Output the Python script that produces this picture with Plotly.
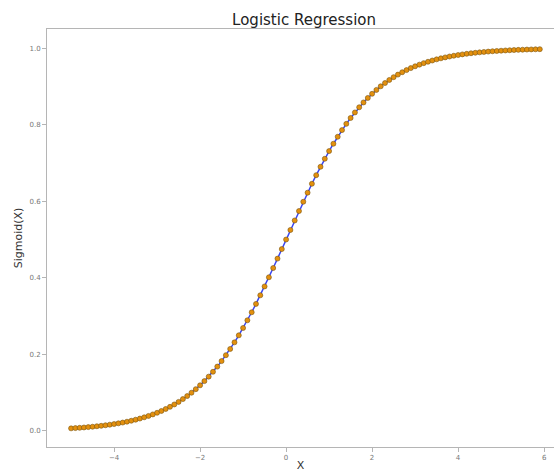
import plotly.graph_objects as go

x_vals = [-5.0, -4.9, -4.8, -4.7, -4.6, -4.5, -4.4, -4.3, -4.2, -4.1,
          -4.0, -3.9, -3.8, -3.7, -3.6, -3.5, -3.4, -3.3, -3.2, -3.1,
          -3.0, -2.9, -2.8, -2.7, -2.6, -2.5, -2.4, -2.3, -2.2, -2.1,
          -2.0, -1.9, -1.8, -1.7, -1.6, -1.5, -1.4, -1.3, -1.2, -1.1,
          -1.0, -0.9, -0.8, -0.7, -0.6, -0.5, -0.4, -0.3, -0.2, -0.1,
          0.0, 0.1, 0.2, 0.3, 0.4, 0.5, 0.6, 0.7, 0.8, 0.9,
          1.0, 1.1, 1.2, 1.3, 1.4, 1.5, 1.6, 1.7, 1.8, 1.9,
          2.0, 2.1, 2.2, 2.3, 2.4, 2.5, 2.6, 2.7, 2.8, 2.9,
          3.0, 3.1, 3.2, 3.3, 3.4, 3.5, 3.6, 3.7, 3.8, 3.9,
          4.0, 4.1, 4.2, 4.3, 4.4, 4.5, 4.6, 4.7, 4.8, 4.9,
          5.0, 5.1, 5.2, 5.3, 5.4, 5.5, 5.6, 5.7, 5.8, 5.9]

sigmoid_vals = [0.00669, 0.00739, 0.00816, 0.00901, 0.00995, 0.01099, 0.01213, 0.01339, 0.01478, 0.01630,
                0.01799, 0.01984, 0.02188, 0.02413, 0.02660, 0.02931, 0.03230, 0.03557, 0.03917, 0.04311,
                0.04743, 0.05216, 0.05733, 0.06297, 0.06914, 0.07586, 0.08317, 0.09113, 0.09975, 0.10910,
                0.11920, 0.13011, 0.14185, 0.15447, 0.16798, 0.18243, 0.19782, 0.21417, 0.23148, 0.24974,
                0.26894, 0.28905, 0.31003, 0.33181, 0.35434, 0.37754, 0.40131, 0.42556, 0.45017, 0.47502,
                0.50000, 0.52498, 0.54983, 0.57444, 0.59869, 0.62246, 0.64566, 0.66819, 0.68997, 0.71095,
                0.73106, 0.75026, 0.76852, 0.78583, 0.80218, 0.81757, 0.83202, 0.84553, 0.85815, 0.86989,
                0.88080, 0.89090, 0.90025, 0.90887, 0.91683, 0.92414, 0.93086, 0.93703, 0.94267, 0.94784,
                0.95257, 0.95689, 0.96083, 0.96443, 0.96770, 0.97069, 0.97340, 0.97587, 0.97812, 0.98016,
                0.98201, 0.98370, 0.98522, 0.98661, 0.98787, 0.98901, 0.99005, 0.99099, 0.99184, 0.99261,
                0.99331, 0.99394, 0.99451, 0.99503, 0.99550, 0.99593, 0.99632, 0.99667, 0.99698, 0.99727]

x_ticks = [-4, -2, 0, 2, 4, 6]
y_ticks = [0.0, 0.2, 0.4, 0.6, 0.8, 1.0]

FONT = "DejaVu Sans"

fig = go.Figure()
fig.add_trace(go.Scatter(
    x=x_vals, y=sigmoid_vals, mode="lines+markers",
    line=dict(color="#3a46f2", width=1.5),
    marker=dict(color="#e3900e", size=5, line=dict(color="#7a5510", width=0.6)),
    showlegend=False,
))

fig.update_layout(
    width=554, height=472,
    margin=dict(l=47, r=0, t=29, b=25),
    paper_bgcolor="white", plot_bgcolor="white",
    font=dict(family=FONT, color="#333"),
    title=dict(text="Logistic Regression", font=dict(size=15, color="#222", family=FONT),
               x=0.507, xref="paper", xanchor="center",
               y=1 - 20 / 472, yref="container", yanchor="middle"),
)

fig.update_xaxes(
    range=[-5.56, 6.23], tickvals=x_ticks, ticktext=[("\u2212" + str(-t)) if t < 0 else str(t) for t in x_ticks],
    showgrid=False, zeroline=False,
    showline=True, linecolor="#b5b5b5", linewidth=1, mirror=True,
    ticks="outside", ticklen=4, tickcolor="#b5b5b5",
    tickfont=dict(size=7, color="#777", family=FONT),
    title=dict(text="X", font=dict(size=11, color="#333", family=FONT), standoff=0),
)
fig.update_yaxes(
    range=[-0.042, 1.05], tickvals=y_ticks, ticktext=[f"{v:.1f}" for v in y_ticks],
    showgrid=False, zeroline=False,
    showline=True, linecolor="#b5b5b5", linewidth=1,
    ticks="outside", ticklen=4, tickcolor="#b5b5b5",
    tickfont=dict(size=7, color="#777", family=FONT),
    title=dict(text="Sigmoid(X)", font=dict(size=11, color="#333", family=FONT), standoff=4),
)

fig.write_html("out.html")
